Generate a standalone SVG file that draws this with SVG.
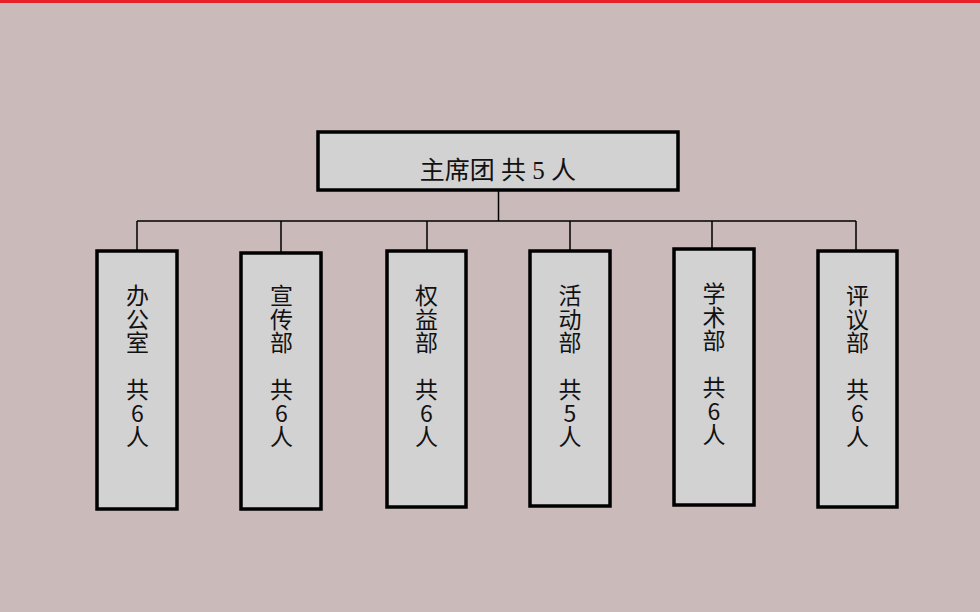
<svg xmlns="http://www.w3.org/2000/svg" width="980" height="612" viewBox="0 0 980 612">
<style>
.box{fill:#d3d2d2;stroke:#000;stroke-width:3.5}
.ln{stroke:#000;stroke-width:1.5;fill:none}
.t{font-family:"Liberation Serif","Noto Sans CJK SC",serif;font-size:24px;fill:#111;text-anchor:middle}
.v{font-family:"Noto Sans CJK SC",sans-serif;font-size:23px;fill:#111;writing-mode:vertical-rl;text-orientation:upright;letter-spacing:0.5px}
</style>
<rect width="980" height="612" fill="#cbbaba"/>
<rect width="980" height="3" fill="#e8202a"/>
<g id="connectors">
<path class="ln" d="M498.5 191V221M137 221H856M137 221V250M281 221V252M427 221V250M570 221V250M712 221V248M856 221V250"/>
</g>
<g id="n0">
<rect class="box" x="318" y="132" width="360" height="58"/>
<text class="t" x="498" y="179" style="font-size:25px">主席团 共 5 人</text>
</g>
<g id="n1">
<rect class="box" x="97" y="251" width="80" height="258"/>
<text class="v" x="137.5" y="284">办公室　共6人</text>
</g>
<g id="n2">
<rect class="box" x="241" y="253" width="80" height="256"/>
<text class="v" x="281.5" y="284">宣传部　共6人</text>
</g>
<g id="n3">
<rect class="box" x="387" y="251" width="79" height="256"/>
<text class="v" x="426.5" y="284">权益部　共6人</text>
</g>
<g id="n4">
<rect class="box" x="530" y="251" width="80" height="255"/>
<text class="v" x="570" y="284">活动部　共5人</text>
</g>
<g id="n5">
<rect class="box" x="674" y="249" width="80" height="256"/>
<text class="v" x="714" y="282">学术部　共6人</text>
</g>
<g id="n6">
<rect class="box" x="818" y="251" width="79" height="256"/>
<text class="v" x="857.5" y="284">评议部　共6人</text>
</g>
</svg>
